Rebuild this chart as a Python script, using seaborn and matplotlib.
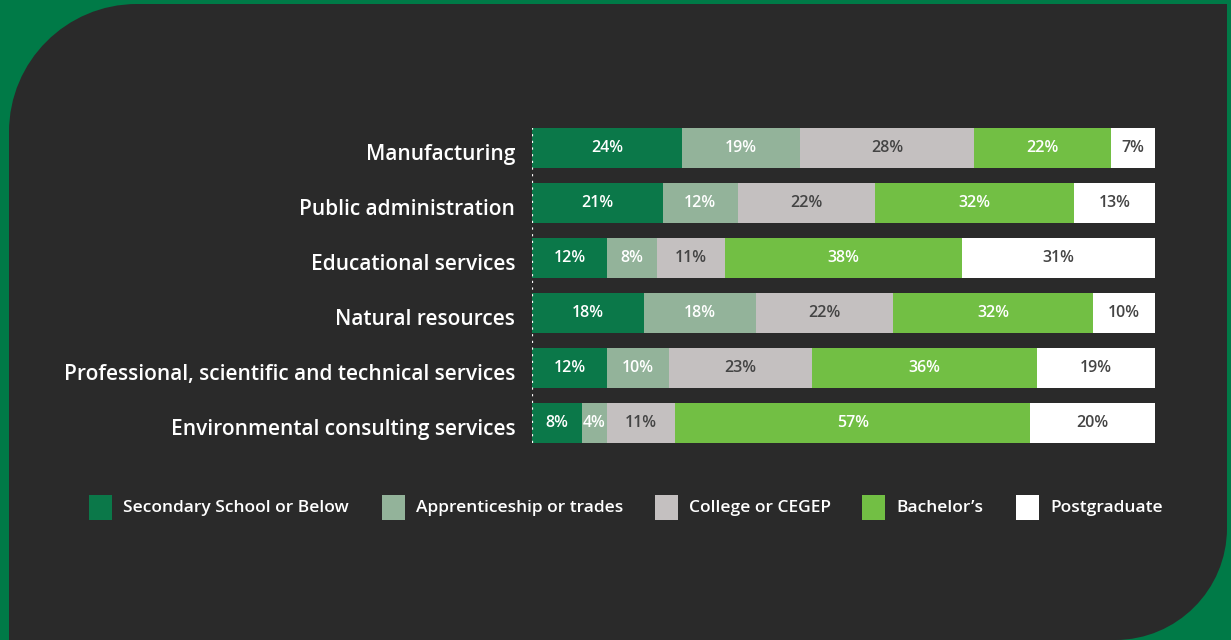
import matplotlib
matplotlib.use("Agg")
import matplotlib.pyplot as plt
import matplotlib.transforms as mtransforms
from matplotlib.patches import Rectangle, PathPatch
from matplotlib.path import Path
import seaborn as sns
import pandas as pd
import numpy as np

industries = [
    "Manufacturing",
    "Public administration",
    "Educational services",
    "Natural resources",
    "Professional, scientific and technical services",
    "Environmental consulting services",
]
levels = ["Secondary School or Below", "Apprenticeship or trades",
          "College or CEGEP", "Bachelor\u2019s", "Postgraduate"]

secondary = [24, 21, 12, 18, 12, 8]
apprenticeship = [19, 12, 8, 18, 10, 4]
college = [28, 22, 11, 22, 23, 11]
bachelors = [22, 32, 38, 32, 36, 57]
postgraduate = [7, 13, 31, 10, 19, 20]

colors = ["#0b7849", "#93b39a", "#c4c0c0", "#72bf44", "#ffffff"]
text_colors = ["white", "white", "#444444", "white", "#444444"]

sns.set_theme(style="white")
plt.rcParams["font.family"] = ["Open Sans", "DejaVu Sans"]

W, H = 1231, 640
fig = plt.figure(figsize=(W / 100, H / 100), dpi=100)
fig.patch.set_facecolor("#007a47")

# dark panel with rounded top-left and bottom-right corners
bg = fig.add_axes([0, 0, 1, 1])
bg.set_xlim(0, W)
bg.set_ylim(H, 0)
bg.axis("off")
x0, y0, x1, y1 = 9, 4, 1227, 640
r1, r2 = 128, 112
k = 0.5523
verts = [
    (x0 + r1, y0), (x1, y0), (x1, y1 - r2),
    (x1, y1 - r2 + k * r2), (x1 - r2 + k * r2, y1), (x1 - r2, y1),
    (x0, y1), (x0, y0 + r1),
    (x0, y0 + r1 - k * r1), (x0 + r1 - k * r1, y0), (x0 + r1, y0),
]
codes = [Path.MOVETO, Path.LINETO, Path.LINETO,
         Path.CURVE4, Path.CURVE4, Path.CURVE4,
         Path.LINETO, Path.LINETO,
         Path.CURVE4, Path.CURVE4, Path.CURVE4]
bg.add_patch(PathPatch(Path(verts, codes), facecolor="#2a2a2a", edgecolor="none"))

# bar chart area
left, right, top, bottom = 532, 1155, 120.5, 450.5
ax = fig.add_axes([left / W, 1 - bottom / H, (right - left) / W, (bottom - top) / H])
ax.set_facecolor("none")

df = pd.DataFrame({
    "industry": industries,
    levels[0]: secondary,
    levels[1]: apprenticeship,
    levels[2]: college,
    levels[3]: bachelors,
    levels[4]: postgraduate,
})
series = df[levels].to_numpy(dtype=float)
cum = np.cumsum(series, axis=1)

# stacked bars: draw cumulative totals from the outermost segment inward
for i in range(len(levels) - 1, -1, -1):
    sns.barplot(x=cum[:, i], y=df["industry"], orient="h", color=colors[i],
                width=40 / 55, saturation=1, ax=ax, linewidth=0)

for r in range(len(industries)):
    for i in range(len(levels)):
        v = series[r, i]
        mid = cum[r, i] - v / 2
        ax.text(mid, r, f"{int(v)}%", ha="center", va="center",
                color=text_colors[i], fontsize=11.5, fontweight="semibold")

ax.set_xlim(0, 100)
ax.set_ylim(5.5, -0.5)
ax.set_xlabel("")
ax.set_ylabel("")
ax.set_xticks([])
ax.set_yticks(range(len(industries)))
ax.set_yticklabels(industries, color="white", fontsize=15, fontweight="semibold")
ax.tick_params(axis="y", length=0, pad=12)
shift = mtransforms.ScaledTranslation(0, -4 / 100, fig.dpi_scale_trans)
for lbl in ax.get_yticklabels():
    lbl.set_transform(lbl.get_transform() + shift)
for s in ax.spines.values():
    s.set_visible(False)
ax.axvline(0, ymin=(5.5 - 5.36) / 6, ymax=(5.5 + 0.36) / 6, color="white",
           linestyle=(0, (1, 2)), linewidth=1.6)

# legend
legend_x = [89, 382, 655, 862, 1016]
ly = 507.5
for xs, lab, c in zip(legend_x, levels, colors):
    bg.add_patch(Rectangle((xs, ly - 12.5), 23, 25, facecolor=c, edgecolor="none"))
    bg.text(xs + 34, ly, lab, color="white", fontsize=12.5, fontweight="semibold",
            ha="left", va="center")

fig.savefig("out.png", dpi=100, facecolor=fig.get_facecolor())
